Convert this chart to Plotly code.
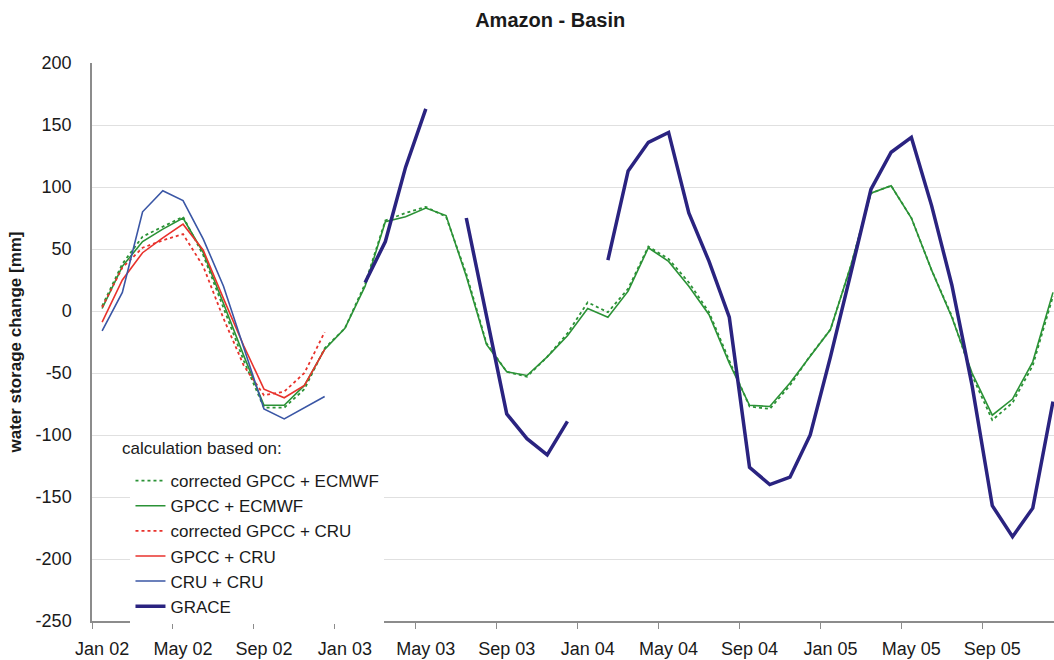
import plotly.graph_objects as go

tick_labels = ["Jan 02", "May 02", "Sep 02", "Jan 03", "May 03", "Sep 03",
               "Jan 04", "May 04", "Sep 04", "Jan 05", "May 05", "Sep 05"]
y_ticks = [-250, -200, -150, -100, -50, 0, 50, 100, 150, 200]
n_months = 48
months = list(range(n_months))

corr_gpcc_ecmwf = [4, 38, 60, 68, 76, 45, 2, -40, -78, -78, -63, -30,
                   -14, 22, 73, 79, 84, 76, 30, -26, -49, -53, -37, -18,
                   7, -1, 18, 52, 42, 23, -1, -40, -77, -79, -60, -36,
                   -15, 36, 95, 101, 75, 33, -4, -52, -88, -74, -44, 12]
gpcc_ecmwf = [2, 36, 56, 66, 75, 47, 6, -36, -76, -76, -60, -31,
              -14, 20, 72, 76, 83, 77, 28, -27, -49, -52, -37, -20,
              2, -5, 16, 51, 40, 20, -3, -42, -76, -77, -58, -36,
              -15, 36, 95, 101, 75, 33, -5, -50, -84, -71, -41, 15]
corr_gpcc_cru = [3, 35, 51, 57, 62, 36, -6, -44, -68, -65, -50, -17]
gpcc_cru = [-9, 25, 47, 59, 70, 49, 10, -28, -63, -70, -60, -31]
cru_cru = [-16, 15, 80, 97, 89, 58, 20, -30, -79, -87, -78, -69]
grace = [None] * 13 + [23, 56, 116, 163, None, 75, -5, -83, -103, -116, -89, None,
                       41, 113, 136, 144, 79, 40, -5, -126, -140, -134, -100,
                       -37, 30, 98, 128, 140, 85, 21, -60, -157, -182, -159, -73]

GREEN = "#2b9236"
RED = "#e8322c"
BLUE = "#3a56a5"
NAVY = "#2a2380"

fig = go.Figure()
fig.add_trace(go.Scatter(x=months, y=corr_gpcc_ecmwf, mode="lines", name="corrected GPCC + ECMWF",
                         line=dict(color=GREEN, width=1.8, dash="dot")))
fig.add_trace(go.Scatter(x=months, y=gpcc_ecmwf, mode="lines", name="GPCC + ECMWF",
                         line=dict(color=GREEN, width=1.6)))
fig.add_trace(go.Scatter(x=months[:12], y=corr_gpcc_cru, mode="lines", name="corrected GPCC + CRU",
                         line=dict(color=RED, width=1.8, dash="dot")))
fig.add_trace(go.Scatter(x=months[:12], y=gpcc_cru, mode="lines", name="GPCC + CRU",
                         line=dict(color=RED, width=1.6)))
fig.add_trace(go.Scatter(x=months[:12], y=cru_cru, mode="lines", name="CRU + CRU",
                         line=dict(color=BLUE, width=1.6)))
fig.add_trace(go.Scatter(x=months, y=grace, mode="lines", name="GRACE",
                         line=dict(color=NAVY, width=3.5), connectgaps=False))

FONT = "Liberation Sans, Arial, sans-serif"

fig.update_layout(
    width=1054, height=660,
    margin=dict(l=92, r=0, t=63, b=39, autoexpand=False),
    paper_bgcolor="white", plot_bgcolor="white",
    font=dict(family=FONT, size=18, color="#1a1a1a"),
    title=dict(text="<b>Amazon - Basin</b>", x=0.522, xanchor="center", yref="container",
               y=0.97, yanchor="middle",
               font=dict(size=20, family=FONT, color="#1a1a1a")),
    xaxis=dict(range=[-0.5, 47.05], tickmode="array", tickvals=months[::4], ticktext=tick_labels,
               showgrid=False, zeroline=False, showline=True, linecolor="#8c8c8c", linewidth=1.5,
               ticks="", ticklabelstandoff=11, tickfont=dict(size=18), automargin=False,
               minor=dict(ticks="outside", tick0=-0.5, dtick=4, ticklen=6, tickcolor="#8c8c8c", showgrid=False)),
    yaxis=dict(range=[-250, 200], tickmode="array", tickvals=y_ticks,
               ticktext=[str(v) for v in y_ticks],
               showgrid=True, gridcolor="#e0e0e0", gridwidth=1, zeroline=False,
               showline=True, linecolor="#8c8c8c", linewidth=1.5, ticks="", ticklabelstandoff=15,
               tickfont=dict(size=18), automargin=False,
               title=dict(text="<b>water storage change [mm]</b>", font=dict(size=17), standoff=10)),
    legend=dict(x=0.04, xanchor="left", y=0.283, yanchor="top", bgcolor="white",
                borderwidth=0, font=dict(size=17), tracegroupgap=0),
    showlegend=True,
    shapes=[dict(type="rect", xref="paper", yref="paper", x0=0.022, x1=0.325, y0=0.0, y1=0.32,
                 fillcolor="white", line=dict(width=0), layer="between")],
    annotations=[dict(text="calculation based on:", xref="paper", yref="paper", x=0.029, y=0.31,
                      xanchor="left", yanchor="middle", showarrow=False,
                      font=dict(size=17, family=FONT, color="#1a1a1a"))],
)

fig.write_html("out.html", config={"displayModeBar": False},
               post_script="document.body.style.margin='0px';")
